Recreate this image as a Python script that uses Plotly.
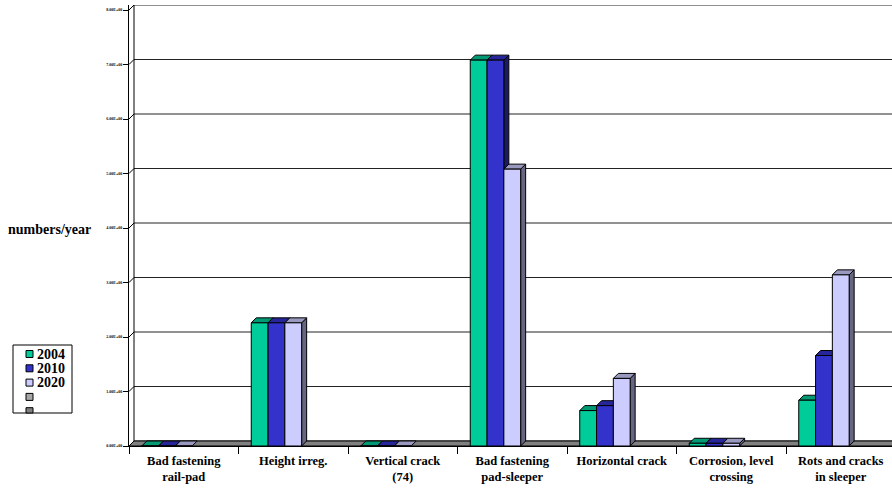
import plotly.graph_objects as go

# ---- data -------------------------------------------------------------
categories = [
    "Bad fastening<br>rail-pad",
    "Height irreg.",
    "Vertical crack<br>(74)",
    "Bad fastening<br>pad-sleeper",
    "Horizontal crack",
    "Corrosion, level<br>crossing",
    "Rots and cracks<br>in sleeper",
]
series_names = ["2004", "2010", "2020", "", ""]
values_2004 = [0, 2.26, 0, 7.08, 0.65, 0.05, 0.84]
values_2010 = [0, 2.26, 0, 7.08, 0.74, 0.05, 1.66]
values_2020 = [0, 2.26, 0, 5.08, 1.24, 0.05, 3.14]
values_s4 = [None, None, None, None, None, None, None]
values_s5 = [None, None, None, None, None, None, None]
y_tick_values = [0, 1, 2, 3, 4, 5, 6, 7, 8]
y_tick_text = ["0.00E+00", "1.00E+00", "2.00E+00", "3.00E+00", "4.00E+00",
               "5.00E+00", "6.00E+00", "7.00E+00", "8.00E+00"]

series_values = [values_2004, values_2010, values_2020, values_s4, values_s5]
front_colors = ["#00CC99", "#3333CC", "#CCCCFF", "#A6A6A6", "#808080"]
top_colors = ["#009973", "#26269A", "#9999C0", "#7C7C7C", "#606060"]
side_colors = ["#007357", "#1A1A66", "#666680", "#555555", "#404040"]

# ---- geometry ---------------------------------------------------------
W, H = 892, 488
L, R, T, B = 129, 0, 5, 42
plot_w = W - L - R
plot_h = H - T - B
px_per_cat = 109.5
px_per_unit = 54.5
x_min = -0.5
x_max = x_min + plot_w / px_per_cat
y_max = plot_h / px_per_unit
dx = 5 / px_per_cat      # depth offset, horizontal (data units)
dy = 5 / px_per_unit     # depth offset, vertical (data units)
bargap = 0.233
n_series = len(series_values)
bar_w = (1 - bargap) / n_series

FONT = "Liberation Serif, Times New Roman, serif"

fig = go.Figure()
x_idx = list(range(len(categories)))
for name, vals, col in zip(series_names, series_values, front_colors):
    fig.add_trace(go.Bar(
        x=x_idx, y=vals, name=name, showlegend=False,
        marker=dict(color=col, line=dict(color="black", width=1)),
    ))

shapes = []
line_style = dict(color="black", width=1)

# back wall gridlines and the slanted joins to the front axis
for k in y_tick_values:
    shapes.append(dict(type="line", xref="x", yref="y", layer="below",
                       x0=x_min + dx, x1=x_max + 1, y0=k + dy, y1=k + dy,
                       line=dict(color="#222222", width=1)))
    shapes.append(dict(type="line", xref="x", yref="y", layer="below",
                       x0=x_min, x1=x_min + dx, y0=k, y1=k + dy,
                       line=line_style))
# back edge of the side wall
shapes.append(dict(type="line", xref="x", yref="y", layer="below",
                   x0=x_min + dx, x1=x_min + dx, y0=dy, y1=y_max + 1,
                   line=line_style))
# floor
shapes.append(dict(type="path", xref="x", yref="y", layer="below",
                   path=f"M {x_min},0 L {x_max + 1},0 L {x_max + 1 + dx},{dy} "
                        f"L {x_min + dx},{dy} Z",
                   fillcolor="#808080", line=line_style))

# top and side faces of every column
for c in x_idx:
    for i, vals in enumerate(series_values):
        v = vals[c]
        if v is None:
            continue
        x0 = c - (1 - bargap) / 2 + i * bar_w
        x1 = x0 + bar_w
        if v > 0:
            shapes.append(dict(type="path", xref="x", yref="y", layer="below",
                               path=f"M {x1},0 L {x1},{v} L {x1 + dx},{v + dy} "
                                    f"L {x1 + dx},{dy} Z",
                               fillcolor=side_colors[i], line=line_style))
        shapes.append(dict(type="path", xref="x", yref="y", layer="below",
                           path=f"M {x0},{v} L {x1},{v} L {x1 + dx},{v + dy} "
                                f"L {x0 + dx},{v + dy} Z",
                           fillcolor=top_colors[i], line=line_style))


# ---- legend box -------------------------------------------------------
def px_x(px):
    return (px - L) / plot_w


def px_y(py):
    return (H - B - py) / plot_h


box_l, box_r, box_t, box_b = 13, 72, 345, 413
shapes.append(dict(type="rect", xref="paper", yref="paper", layer="above",
                   x0=px_x(box_l), x1=px_x(box_r), y0=px_y(box_b), y1=px_y(box_t),
                   fillcolor="white", line=line_style))
annotations = []
row_y = 354
for name, col in zip(series_names, front_colors):
    sq_top = row_y - 3.5
    sq_bot = min(row_y + 3.5, box_b)
    shapes.append(dict(type="rect", xref="paper", yref="paper", layer="above",
                       x0=px_x(26), x1=px_x(33), y0=px_y(sq_bot), y1=px_y(sq_top),
                       fillcolor=col, line=line_style))
    if name:
        annotations.append(dict(xref="paper", yref="paper", x=px_x(35), y=px_y(row_y),
                                xanchor="left", yanchor="middle", showarrow=False,
                                text=name,
                                font=dict(family=FONT, size=14, color="black",
                                          weight="bold")))
    row_y += 14.3

# axis title
annotations.append(dict(xref="paper", yref="paper", x=px_x(93), y=px_y(229),
                        xanchor="right", yanchor="middle", showarrow=False,
                        text="numbers/year",
                        font=dict(family=FONT, size=14, color="black", weight="bold")))

fig.update_layout(
    width=W, height=H,
    margin=dict(l=L, r=R, t=T, b=B, pad=0),
    paper_bgcolor="white", plot_bgcolor="white",
    barmode="group", bargap=bargap, bargroupgap=0,
    shapes=shapes, annotations=annotations,
    showlegend=False,
    xaxis=dict(
        range=[x_min, x_max], showgrid=False, zeroline=False,
        showline=True, linecolor="black", linewidth=1,
        tickmode="array", tickvals=x_idx, ticktext=categories, ticks="",
        ticklabelstandoff=3,
        tickfont=dict(family=FONT, size=12.5, color="black", weight="bold"),
        minor=dict(tickmode="array",
                   tickvals=[c - 0.5 for c in x_idx] + [len(x_idx) - 0.5],
                   ticks="outside", ticklen=7, tickcolor="black", showgrid=False),
        fixedrange=True,
    ),
    yaxis=dict(
        range=[0, y_max], showgrid=False, zeroline=False,
        showline=True, linecolor="black", linewidth=1,
        tickmode="array", tickvals=y_tick_values, ticktext=y_tick_text,
        ticks="outside", ticklen=5, tickcolor="black",
        tickfont=dict(family=FONT, size=4, color="black", weight="bold"),
        fixedrange=True,
    ),
)

fig.write_html("out.html", config={"displayModeBar": False})
